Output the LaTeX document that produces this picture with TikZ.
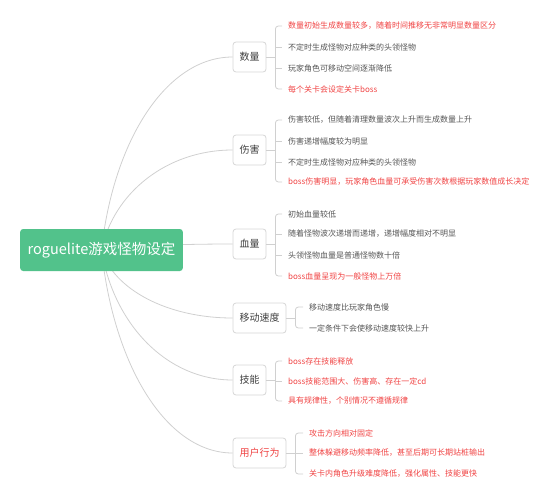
\documentclass[tikz,border=0pt]{standalone}
\usepackage{fontspec}
\setmainfont{Noto Sans CJK SC}
\usetikzlibrary{backgrounds,calc}
\definecolor{rootgreen}{HTML}{52C28B}
\definecolor{linegray}{HTML}{D0D0D0}
\definecolor{boxgray}{HTML}{D6D6D6}
\definecolor{txtdark}{HTML}{404040}
\definecolor{txtgray}{HTML}{555555}
\definecolor{txtred}{HTML}{F04343}
\begin{document}
\begin{tikzpicture}[x=1pt,y=-1pt,
  rootbox/.style={fill=rootgreen,rounded corners=3pt,text=white,inner xsep=7.5pt,minimum height=42pt,font=\fontsize{14.5}{16}\selectfont},
  branchbox/.style={draw=boxgray,fill=white,rounded corners=3pt,line width=0.8pt,text=txtdark,inner xsep=6.5pt,minimum height=30pt,font=\fontsize{10}{12}\selectfont},
  leaf/.style={anchor=west,inner sep=0pt,text=txtgray,font=\fontsize{8}{9.6}\selectfont},
  leafred/.style={leaf,text=txtred},
  conn/.style={draw=linegray,line width=0.8pt},
]
\useasboundingbox (0,0) rectangle (545,500);
\node[rootbox] (root) at (101.5,250) {roguelite游戏怪物设定};
% branches
\node[branchbox] (b1) at (249.5,57) {数量};
\node[branchbox] (b2) at (249.5,150) {伤害};
\node[branchbox] (b3) at (249.5,244) {血量};
\node[branchbox] (b4) at (259.5,318) {移动速度};
\node[branchbox] (b5) at (249.5,380) {技能};
\node[branchbox,text=txtred] (b6) at (259.5,453) {用户行为};
% leaves
\node[leafred] (l11) at (288,26) {数量初始生成数量较多，随着时间推移无非常明显数量区分};
\node[leaf] (l12) at (288,47) {不定时生成怪物对应种类的头领怪物};
\node[leaf] (l13) at (288,68) {玩家角色可移动空间逐渐降低};
\node[leafred] (l14) at (288,89) {每个关卡会设定关卡boss};
\node[leaf] (l21) at (288,120) {伤害较低，但随着清理数量波次上升而生成数量上升};
\node[leaf] (l22) at (288,141) {伤害递增幅度较为明显};
\node[leaf] (l23) at (288,162) {不定时生成怪物对应种类的头领怪物};
\node[leafred] (l24) at (288,182) {boss伤害明显，玩家角色血量可承受伤害次数根据玩家数值成长决定};
\node[leaf] (l31) at (288,214) {初始血量较低};
\node[leaf] (l32) at (288,234) {随着怪物波次递增而递增，递增幅度相对不明显};
\node[leaf] (l33) at (288,255) {头领怪物血量是普通怪物数十倍};
\node[leafred] (l34) at (288,276) {boss血量呈现为一般怪物上万倍};
\node[leaf] (l41) at (309,307) {移动速度比玩家角色慢};
\node[leaf] (l42) at (309,328) {一定条件下会使移动速度较快上升};
\node[leafred] (l51) at (288,361) {boss存在技能释放};
\node[leafred] (l52) at (288,381) {boss技能范围大、伤害高、存在一定cd};
\node[leafred] (l53) at (288,401) {具有规律性，个别情况不遵循规律};
\node[leafred] (l61) at (309,433) {攻击方向相对固定};
\node[leafred] (l62) at (309,453) {整体躲避移动频率降低，甚至后期可长期站桩输出};
\node[leafred] (l63) at (309,474) {关卡内角色升级难度降低，强化属性、技能更快};
% bracket corners
\coordinate (k1) at ([xshift=9pt]b1.east);
\coordinate (k2) at ([xshift=9pt]b2.east);
\coordinate (k3) at ([xshift=9pt]b3.east);
\coordinate (k4) at ([xshift=9pt]b4.east);
\coordinate (k5) at ([xshift=9pt]b5.east);
\coordinate (k6) at ([xshift=9pt]b6.east);
\begin{scope}[on background layer]
\draw[conn] (root.center) .. controls +(12,-110) and +(-66,0) .. (b1.west);
\draw[conn] (root.center) .. controls +(12,-57) and +(-66,0) .. (b2.west);
\draw[conn] (root.center) .. controls +(12,-3) and +(-66,0) .. (b3.west);
\draw[conn] (root.center) .. controls +(12,39) and +(-66,0) .. (b4.west);
\draw[conn] (root.center) .. controls +(12,74) and +(-66,0) .. (b5.west);
\draw[conn] (root.center) .. controls +(12,116) and +(-66,0) .. (b6.west);
\end{scope}
% brackets
\foreach \b/\first/\last in {1/l11/l14,2/l21/l24,3/l31/l34,4/l41/l42,5/l51/l53,6/l61/l63}{
  \draw[conn] (b\b.east) -- (k\b);
  \draw[conn,rounded corners=3pt] ([xshift=-6pt]\first.west) -| (k\b) |- ([xshift=-6pt]\last.west);
}
\foreach \l/\k in {l12/k1,l13/k1,l22/k2,l23/k2,l32/k3,l33/k3,l52/k5,l62/k6}{
  \draw[conn] (\l.west -| \k) -- ([xshift=-6pt]\l.west);
}
\end{tikzpicture}
\end{document}
